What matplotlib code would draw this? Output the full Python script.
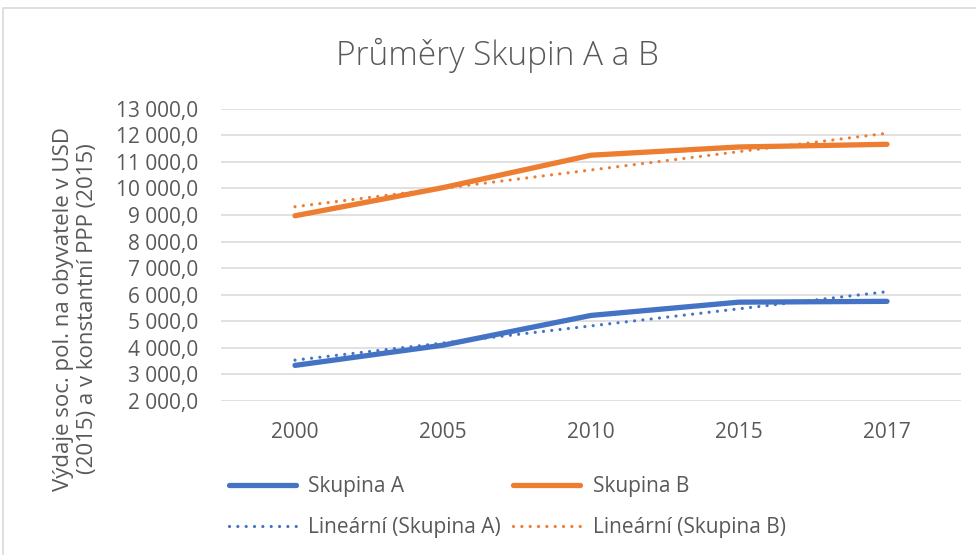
import matplotlib

matplotlib.use("Agg")
import matplotlib.pyplot as plt
import numpy as np
from matplotlib.patches import Rectangle

plt.rcParams["font.family"] = ["Open Sans", "DejaVu Sans"]

years = ["2000", "2005", "2010", "2015", "2017"]
skupina_a = [3340, 4100, 5220, 5720, 5750]
skupina_b = [8970, 10030, 11250, 11560, 11660]

_BLUE = "#4472C4"
_ORANGE = "#ED7D31"
_TEXT = "#595959"


def fmt_cz(v, _pos=None):
    # "13 000,0" style
    return f"{v:,.1f}".replace(",", " ").replace(".", ",")


fig = plt.figure(figsize=(9.76, 5.55), dpi=100)
ax = fig.add_axes([221 / 976, 1 - 401 / 555, 740 / 976, (401 - 108.7) / 555])

x = np.arange(len(years))
dotted = (0, (0.01, 2.6))

for vals, color, name in [(skupina_a, _BLUE, "Skupina A"), (skupina_b, _ORANGE, "Skupina B")]:
    ax.plot(x, vals, color=color, lw=3.8, solid_capstyle="round", label=name, zorder=3)
    # linear trendline, fitted on category index like Excel does
    k, q = np.polyfit(x + 1, vals, 1)
    ax.plot(x, k * (x + 1) + q, color=color, lw=2.3, linestyle=dotted,
            dash_capstyle="round", label=f"Lineární ({name})", zorder=2)

ax.set_xlim(-0.5, len(years) - 0.5)
ax.set_ylim(2000, 13000)
ax.set_yticks(np.arange(2000, 13001, 1000))
ax.yaxis.set_major_formatter(fmt_cz)
ax.set_xticks(x)
ax.set_xticklabels(years)
ax.tick_params(length=0, labelsize=15, labelcolor=_TEXT)
ax.tick_params(axis="x", pad=15)
ax.tick_params(axis="y", pad=16.5)
ax.grid(axis="y", color="#D9D9D9", lw=1.1)
ax.set_axisbelow(True)
for s in ax.spines.values():
    s.set_visible(False)

ax.set_ylabel("Výdaje soc. pol. na obyvatele v USD\n(2015) a v konstantní PPP (2015)",
              fontsize=16, color=_TEXT, va="center", linespacing=1.2)
ax.yaxis.set_label_coords(-0.197, 0.315)

fig.text(0.51, 1 - 55 / 555, "Průměry Skupin A a B", ha="center", va="center",
         fontsize=24, color=_TEXT, fontweight="light")

h, l = ax.get_legend_handles_labels()
leg = fig.legend(h, l, ncol=2,
                 loc="upper left", bbox_to_anchor=(229 / 976, 1 - 476 / 555),
                 frameon=False, fontsize=15, labelcolor=_TEXT,
                 handlelength=3.2, handletextpad=0.6, columnspacing=0.6,
                 labelspacing=0.95, borderaxespad=0, borderpad=0)

fig.patches.append(Rectangle((3 / 976, -0.05), 1.0, 1 - 8 / 555 + 0.05,
                             transform=fig.transFigure, fill=False,
                             edgecolor="#D9D9D9", lw=1.2))

fig.savefig("out.png", dpi=100)
